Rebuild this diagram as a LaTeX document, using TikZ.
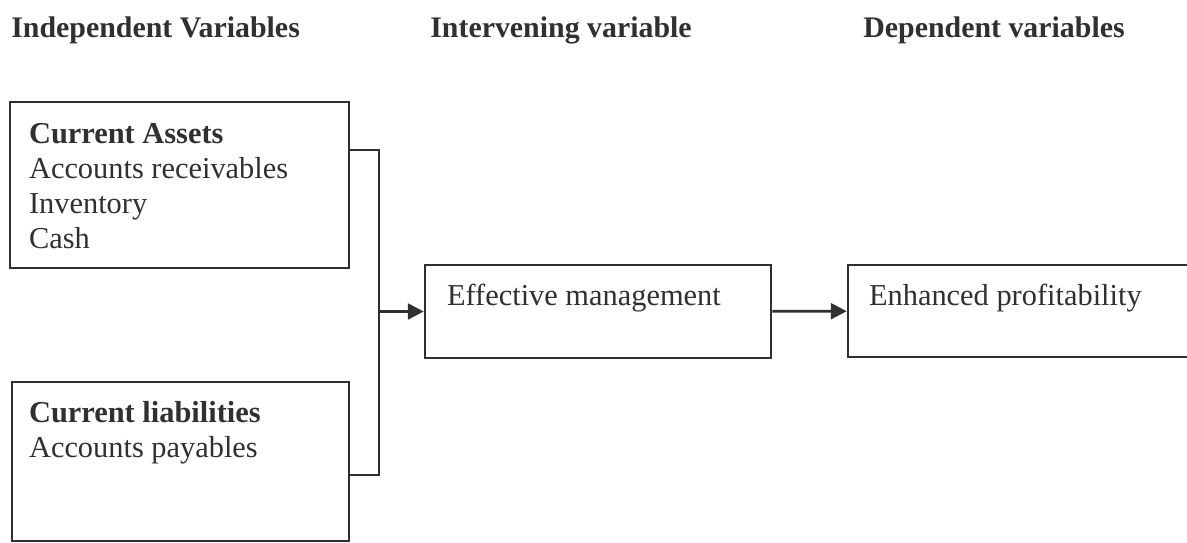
\documentclass[tikz,border=0pt]{standalone}
\usepackage{fontspec}
\setmainfont{Liberation Serif}
\usetikzlibrary{positioning,arrows.meta}

\definecolor{ink}{HTML}{303030}

\tikzset{
  varbox/.style={draw=ink, line width=1.5pt, rectangle, inner sep=0pt},
  boxtext/.style={anchor=north west, inner sep=0pt, align=left, text=ink,
    font=\fontsize{17.3}{20}\selectfont},
  heading/.style={anchor=base west, inner sep=0pt, text=ink,
    font=\fontsize{17}{20}\selectfont\bfseries},
  link/.style={draw=ink, line width=1.5pt},
  flow/.style={link, -{Triangle[length=9pt, width=9pt]}}
}

\begin{document}
\begin{tikzpicture}[x=0.02cm, y=-0.02cm]
  \useasboundingbox (0,0) rectangle (1187,543);

  % Column headings
  \node[heading] (hind) at (11,38)  {Independent Variables};
  \node[heading] (hint) at (430,38) {Intervening variable};
  \node[heading] (hdep) at (863,38) {Dependent variables};

  % Define boxes
  \node[varbox, minimum width=6.78cm, minimum height=3.32cm] (assets) at (179.5,185) {};
  \node[varbox, minimum width=6.74cm, minimum height=3.18cm] (liab)   at (180.5,461.5) {};
  \node[varbox, minimum width=6.92cm, minimum height=1.86cm] (mgmt)   at (598,311.5) {};
  \node[varbox, minimum width=7.04cm, minimum height=1.84cm] (profit) at (1024,311) {};

  % Box texts
  \node[boxtext, below right=0.44cm and 0.4cm of assets.north west] (assetstxt)
    {\textbf{Current Assets}\\Accounts receivables\\Inventory\\Cash};
  \node[boxtext, below right=0.4cm and 0.36cm of liab.north west] (liabtxt)
    {\textbf{Current liabilities}\\Accounts payables};
  \node[boxtext, below right=0.4cm and 0.46cm of mgmt.north west] (mgmttxt)
    {Effective management};
  \node[boxtext, below right=0.4cm and 0.44cm of profit.north west] (profittxt)
    {Enhanced profitability};

  % Draw connectors
  \coordinate (bustop) at (379,150);
  \coordinate (busbot) at (379,475);
  \draw[link] (assets.east |- bustop) -- (bustop) -- (busbot) -- (liab.east |- busbot);
  \draw[flow] (bustop |- mgmt.west) -- (mgmt.west);
  \draw[flow] (mgmt) -- (profit);

\end{tikzpicture}
\end{document}
